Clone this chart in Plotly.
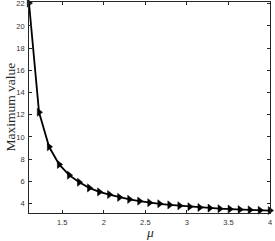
import numpy as np
import plotly.graph_objects as go

mu = np.linspace(1.1, 4.0, 25)
max_value = [22.05, 12.22, 9.11, 7.52, 6.56, 5.92, 5.41, 5.05, 4.81, 4.56, 4.38, 4.22, 4.08,
             3.98, 3.88, 3.80, 3.72, 3.65, 3.59, 3.54, 3.50, 3.46, 3.43, 3.40, 3.37]

x_ticks = [1.5, 2, 2.5, 3, 3.5, 4]
y_ticks = [4, 6, 8, 10, 12, 14, 16, 18, 20, 22]

axis_color = "#262626"
tick_font = dict(family="Liberation Sans, Arial, sans-serif", size=7.5, color="#333333")
label_font = dict(family="Liberation Serif, Times New Roman, serif", size=13.5, color="#262626")

fig = go.Figure()
fig.add_trace(go.Scatter(
    x=mu, y=max_value, mode="lines+markers",
    line=dict(color="black", width=1.8),
    marker=dict(symbol="triangle-right", size=7, color="black",
                line=dict(color="black", width=0.5)),
    showlegend=False, cliponaxis=False,
))

fig.update_layout(
    width=275, height=241,
    margin=dict(l=29, r=5, t=2, b=28, autoexpand=False),
    paper_bgcolor="white", plot_bgcolor="white",
)
fig.update_xaxes(
    range=[1.1, 4.0], tickvals=x_ticks, ticktext=[f"{v:g}" for v in x_ticks],
    showgrid=False, zeroline=False, showline=True, linecolor=axis_color, linewidth=0.8,
    mirror="ticks", ticks="inside", ticklen=3, tickcolor=axis_color, tickwidth=0.7,
    tickfont=tick_font, ticklabelstandoff=2, automargin=False, ticklabeloverflow="allow",
)
fig.update_yaxes(
    range=[3.15, 22.15], tickvals=y_ticks, ticktext=[str(v) for v in y_ticks],
    showgrid=False, zeroline=False, showline=True, linecolor=axis_color, linewidth=0.8,
    mirror="ticks", ticks="inside", ticklen=3, tickcolor=axis_color, tickwidth=0.7,
    tickfont=tick_font, ticklabelstandoff=2, automargin=False, ticklabeloverflow="allow",
)
fig.add_annotation(text="<i>μ</i>", xref="paper", yref="paper", x=0.5, y=0,
                   yshift=-19, xanchor="center", yanchor="middle", showarrow=False,
                   font=label_font, borderpad=0)
fig.add_annotation(text="Maximum value", xref="paper", yref="paper", x=0, y=0.5,
                   xshift=-19, xanchor="center", yanchor="middle", showarrow=False,
                   textangle=-90, font=label_font, borderpad=0)

fig.write_html(
    "out.html",
    config={"displayModeBar": False},
    post_script="document.body.style.margin='0';document.body.style.padding='0';",
)
